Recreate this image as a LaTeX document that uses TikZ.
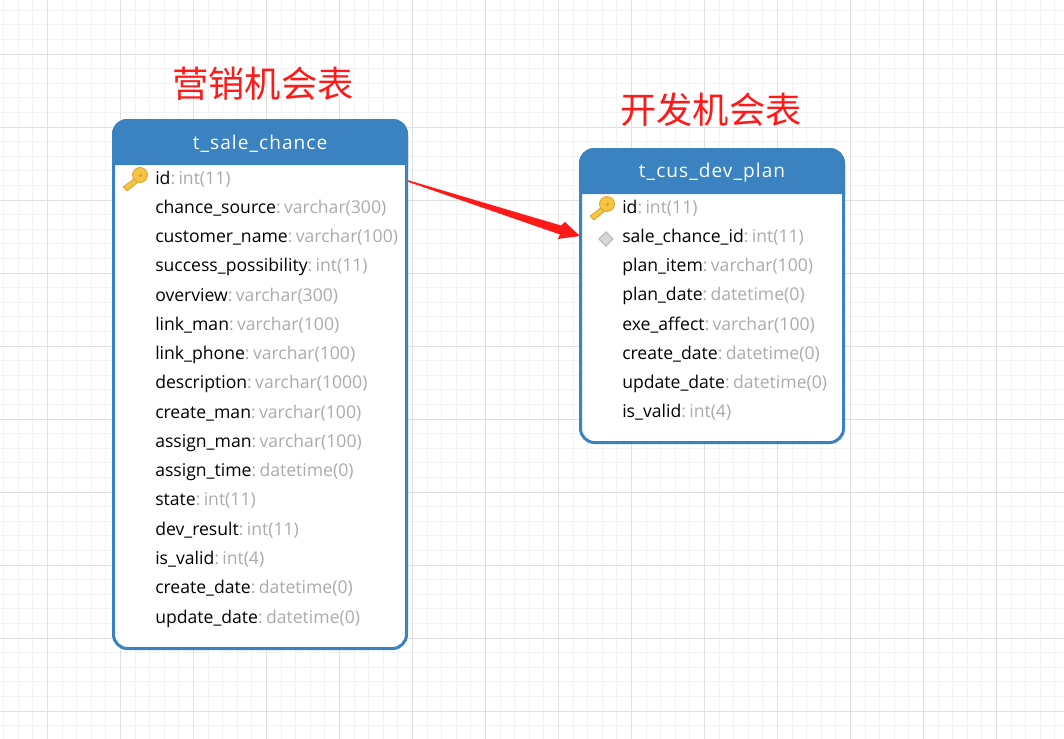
\documentclass[tikz,border=0pt]{standalone}
\usepackage{fontspec}
\usepackage{tikz}
\usepackage{xcolor}
\setmainfont{Open Sans}
\newfontfamily\cjkfont{Noto Sans CJK SC}
\newfontfamily\headfont[LetterSpace=5.5]{Open Sans}
\usetikzlibrary{arrows.meta,positioning,shapes.geometric,calc}
\definecolor{tableblue}{HTML}{3A83C0}
\definecolor{typegray}{HTML}{ABABAB}
\definecolor{gridmajor}{HTML}{E0E0E0}
\definecolor{gridminor}{HTML}{F3F3F3}
\definecolor{titlered}{HTML}{FF1A1A}
\definecolor{keygold}{HTML}{F6C445}
\definecolor{keyedge}{HTML}{DDA32B}
\definecolor{diagray}{HTML}{D8D8D8}
\definecolor{diaedge}{HTML}{BCBCBC}
\tikzset{
  tablebox/.style={draw=tableblue,fill=white,line width=2.25pt,rounded corners=10.5pt,
                   inner sep=0pt,outer sep=0pt,anchor=north west},
  tablehead/.style={font=\headfont\fontsize{14.3}{16}\selectfont,text=white,inner sep=0pt},
  fieldrow/.style={anchor=base west,inner sep=0pt,text=black,
                   font=\fontsize{13.2}{16}\selectfont},
  tabletitle/.style={font=\cjkfont\fontsize{27.2}{30}\selectfont,text=titlered,inner sep=0pt},
  fkmark/.style={diamond,draw=diaedge,fill=diagray,line width=0.9pt,inner sep=0pt,
                 minimum width=11pt,minimum height=11pt},
  keyicon/.pic={
    \draw[keyedge,fill=keygold,line width=0.6pt,rounded corners=0.6pt]
      (-5,3) -- (-17,12) -- (-13,16) -- (-2,7) -- cycle;
    \draw[keyedge,fill=keygold,line width=0.6pt] (0,0) circle [radius=7.5];
    \fill[keyedge] (0.5,0.5) circle [radius=1.8];
  }
}
\newcommand{\typepart}[1]{\textcolor{typegray}{:\hspace{2.5pt}#1}}
\begin{document}
\begin{tikzpicture}[x=0.75pt,y=-0.75pt,>=Latex]
  \useasboundingbox (0,0) rectangle (1064,739);
  \fill[white] (0,0) rectangle (1064,739);
  % grid
  \foreach \k in {0,...,72} {
    \draw[gridminor,line width=0.75pt] ({3.7+14.6*\k},0) -- ({3.7+14.6*\k},739);
  }
  \foreach \k in {0,...,50} {
    \draw[gridminor,line width=0.75pt] (0,{10.2+14.6*\k}) -- (1064,{10.2+14.6*\k});
  }
  \foreach \k in {0,...,13} {
    \draw[gridmajor,line width=0.75pt] ({47.5+73*\k},0) -- ({47.5+73*\k},739);
  }
  \foreach \k in {0,...,9} {
    \draw[gridmajor,line width=0.75pt] (0,{54+73*\k}) -- (1064,{54+73*\k});
  }

  % titles
  \node[tabletitle] (sale_title) at (263,84) {营销机会表};
  \node[tabletitle] (plan_title) at (711,110) {开发机会表};

  % t_sale_chance
  \node[tablebox,minimum width=219.75pt,minimum height=396pt] (sale_box) at (113.5,120.5) {};
  \fill[tableblue] (112,165) [rounded corners=11.5pt] -- (112,119) -- (408,119)
    [sharp corners] -- (408,165) -- cycle;
  \node[tablehead] (sale_head) at (260,143.5) {t\_sale\_chance};
  \pic at (140,175) {keyicon};
  \foreach \fname/\ftype [count=\i from 0] in {id/int(11),chance\_source/varchar(300),
      customer\_name/varchar(100),success\_possibility/int(11),overview/varchar(300),
      link\_man/varchar(100),link\_phone/varchar(100),description/varchar(1000),
      create\_man/varchar(100),assign\_man/varchar(100),assign\_time/datetime(0),
      state/int(11),dev\_result/int(11),is\_valid/int(4),create\_date/datetime(0),
      update\_date/datetime(0)} {
    \node[fieldrow] (sale_row\i) at (155,{184+29.27*\i}) {\fname\typepart{\ftype}};
  }

  % t_cus_dev_plan
  \node[tablebox,minimum width=197.25pt,minimum height=219.75pt] (plan_box) at (580.5,149.5) {};
  \fill[tableblue] (579,194) [rounded corners=11.5pt] -- (579,148) -- (845,148)
    [sharp corners] -- (845,194) -- cycle;
  \node[tablehead] (plan_head) at (712,173) {t\_cus\_dev\_plan};
  \pic at (607,204) {keyicon};
  \node[fkmark] (plan_fk) at (606,239) {};
  \foreach \fname/\ftype [count=\i from 0] in {id/int(11),sale\_chance\_id/int(11),
      plan\_item/varchar(100),plan\_date/datetime(0),exe\_affect/varchar(100),
      create\_date/datetime(0),update\_date/datetime(0),is\_valid/int(4)} {
    \node[fieldrow] (plan_row\i) at (622,{213+29.27*\i}) {\fname\typepart{\ftype}};
  }

  % red arrow
  \coordinate (sale_out) at (408,181);
  \coordinate (plan_in) at (580,236);
  \fill[titlered] ($(sale_out)+(0,-0.8)$) -- ($(plan_in)+(-19,-10.5)$) -- ($(plan_in)+(-15,-14)$)
    -- (plan_in) -- ($(plan_in)+(-22,3)$) -- ($(plan_in)+(-20,-1.5)$) -- ($(sale_out)+(0,0.8)$) -- cycle;
\end{tikzpicture}
\end{document}
